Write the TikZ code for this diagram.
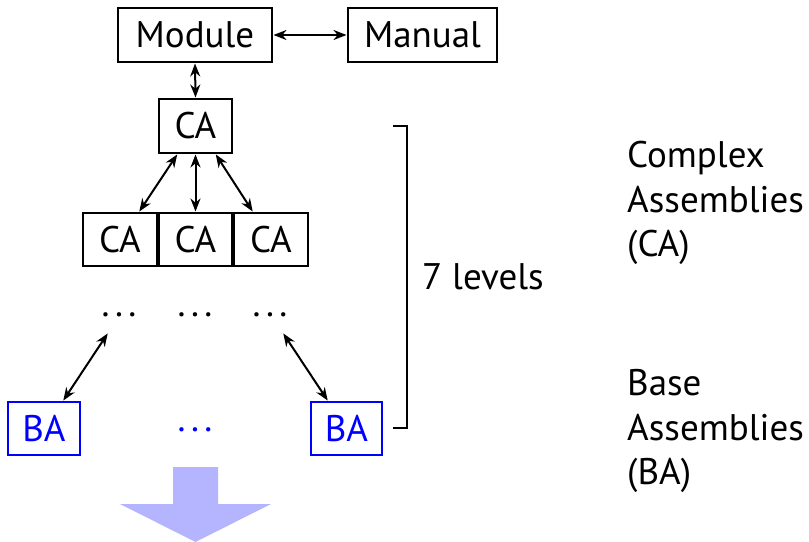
\documentclass[tikz,border=0pt]{standalone}
\usepackage{fontspec}
\setmainfont{PT Sans}
\usetikzlibrary{arrows.meta}
\definecolor{bablue}{RGB}{0,0,255}
\definecolor{bigarrow}{RGB}{180,180,255}
\newcommand{\mydots}{.\kern5.5bp.\kern5.5bp.}
\begin{document}
\begin{tikzpicture}[x=1bp,y=-1bp,
  every node/.style={font=\fontsize{37bp}{44bp}\selectfont},
  box/.style={draw=black,line width=2bp,inner sep=0pt,minimum height=54bp},
  babox/.style={draw=bablue,text=bablue,line width=2bp,inner sep=0pt,minimum height=53bp},
  arr/.style={line width=2bp,{Stealth[length=13bp,width=10bp]}-{Stealth[length=13bp,width=10bp]},shorten <=0.5bp,shorten >=0.5bp},
  dots/.style={inner sep=0pt,anchor=base},
  lbl/.style={anchor=base west,inner sep=0pt}]
\useasboundingbox (0,0) rectangle (809,542);
\node[box,minimum width=154bp] (mod) at (195,35) {Module};
\node[box,minimum width=149bp] (man) at (422.5,35) {Manual};
\node[box,minimum width=73bp] (ca0) at (195.5,126) {CA};
\node[box,minimum width=74bp,minimum height=53bp] (ca1) at (120,239.5) {CA};
\node[box,minimum width=73bp,minimum height=53bp] (ca2) at (195.5,239.5) {CA};
\node[box,minimum width=74bp,minimum height=53bp] (ca3) at (271,239.5) {CA};
\node[dots] (d1) at (119,317) {\mydots};
\node[dots] (d2) at (195,317) {\mydots};
\node[dots] (d3) at (270,317) {\mydots};
\node[babox,minimum width=72bp] (ba1) at (44,428.5) {BA};
\node[dots,text=bablue] (d4) at (195,431) {\mydots};
\node[babox,minimum width=71bp] (ba2) at (346.5,428.5) {BA};
\draw[arr] (mod.east) -- (man.west);
\draw[arr] (mod.south) -- (ca0.north);
\draw[arr] ([xshift=-18bp]ca0.south) -- ([xshift=19bp]ca1.north);
\draw[arr] (ca0.south) -- (ca2.north);
\draw[arr] ([xshift=20bp]ca0.south) -- ([xshift=-18bp]ca3.north);
\coordinate (e1) at (108,333);
\coordinate (e3) at (283,333);
\draw[arr] (e1) -- ([xshift=19bp]ba1.north);
\draw[arr] (e3) -- ([xshift=-18.5bp]ba2.north);
\draw[line width=1.8bp] (393,126) -- (407,126) -- (407,428) -- (393,428);
\node[lbl] (lv) at (422,290) {7 levels};
\node[lbl] (c1) at (627,168) {Complex};
\node[lbl] (c2) at (627,213) {Assemblies};
\node[lbl] (c3) at (627,257) {(CA)};
\node[lbl] (b1) at (627,395) {Base};
\node[lbl] (b2) at (627,440) {Assemblies};
\node[lbl] (b3) at (627,484) {(BA)};
\fill[bigarrow] (173,467) -- (218,467) -- (218,504) -- (271,504) -- (195.5,542) -- (120,504) -- (173,504) -- cycle;
\end{tikzpicture}
\end{document}
